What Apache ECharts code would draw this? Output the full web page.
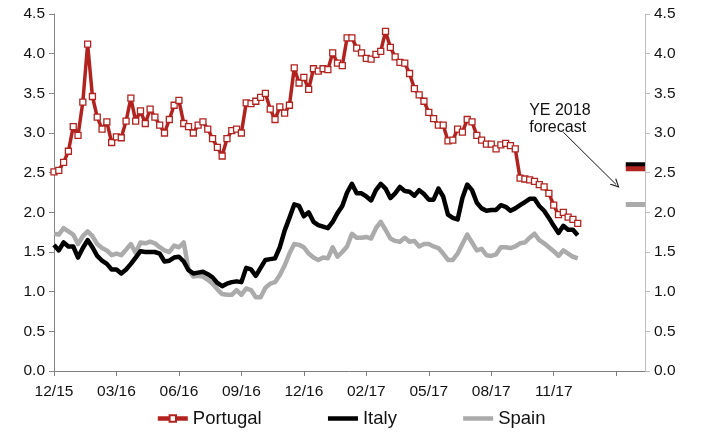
<!DOCTYPE html>
<html>
<head>
<meta charset="utf-8">
<script src="https://cdn.jsdelivr.net/npm/echarts@6/dist/echarts.min.js"></script>
<style>
  html, body { margin: 0; padding: 0; background: #fff; }
  #chart { width: 701px; height: 432px; }
</style>
</head>
<body>
<div id="chart"></div>
<script>
// Weekly 10-year government bond yields (%), Dec 2015 - Dec 2017
const tickLabels = ['12/15', '03/16', '06/16', '09/16', '12/16', '02/17', '05/17', '08/17', '11/17', ''];

const portugal = [
  2.51, 2.53, 2.63, 2.77, 3.08, 2.97, 3.39, 4.12, 3.46, 3.20,
  3.05, 3.14, 2.88, 2.95, 2.94, 3.15, 3.44, 3.15, 3.28, 3.12,
  3.30, 3.20, 3.10, 3.00, 3.17, 3.35, 3.41, 3.12, 3.08, 3.00,
  3.10, 3.14, 3.05, 2.93, 2.82, 2.71, 2.93, 3.03, 3.05, 3.00,
  3.38, 3.37, 3.40, 3.45, 3.50, 3.30, 3.17, 3.33, 3.25, 3.35,
  3.82, 3.63, 3.70, 3.55, 3.81, 3.78, 3.81, 3.80, 4.01, 3.88,
  3.85, 4.20, 4.20, 4.07, 4.01, 3.94, 3.93, 3.99, 4.03, 4.28,
  4.08, 3.96, 3.89, 3.88, 3.75, 3.56, 3.48, 3.40, 3.26, 3.18,
  3.10, 3.10, 2.90, 2.91, 3.05, 3.01, 3.17, 3.14, 2.97, 2.91,
  2.86, 2.86, 2.80, 2.85, 2.87, 2.84, 2.80, 2.43, 2.42, 2.41,
  2.39, 2.35, 2.32, 2.24, 2.09, 1.97, 2.00, 1.94, 1.91, 1.86
];

const italy = [
  1.59, 1.52, 1.62, 1.57, 1.57, 1.43, 1.55, 1.65, 1.56, 1.45,
  1.39, 1.35, 1.28, 1.28, 1.23, 1.28, 1.35, 1.43, 1.51, 1.50,
  1.50, 1.50, 1.48, 1.38, 1.39, 1.43, 1.44, 1.38, 1.27, 1.23,
  1.24, 1.25, 1.22, 1.18, 1.11, 1.07, 1.10, 1.12, 1.13, 1.12,
  1.30, 1.28, 1.20, 1.30, 1.40, 1.41, 1.42, 1.56, 1.77, 1.93,
  2.10, 2.08, 1.95, 2.00, 1.88, 1.84, 1.82, 1.80, 1.88, 1.99,
  2.08, 2.25, 2.36, 2.24, 2.24, 2.20, 2.15, 2.28, 2.36, 2.30,
  2.18, 2.24, 2.32, 2.27, 2.26, 2.21, 2.28, 2.23, 2.16, 2.16,
  2.30, 2.20, 1.97, 1.93, 1.91, 2.18, 2.35, 2.28, 2.12, 2.05,
  2.02, 2.03, 2.03, 2.09, 2.07, 2.02, 2.05, 2.09, 2.13, 2.17,
  2.17, 2.08, 2.02, 1.93, 1.83, 1.74, 1.83, 1.78, 1.78, 1.71
];

const spain = [
  1.73, 1.72, 1.80, 1.76, 1.72, 1.60, 1.70, 1.76, 1.70, 1.60,
  1.55, 1.52, 1.46, 1.48, 1.46, 1.53, 1.60, 1.49, 1.62, 1.61,
  1.63, 1.61, 1.56, 1.52, 1.50, 1.58, 1.56, 1.62, 1.28, 1.19,
  1.20, 1.19, 1.15, 1.10, 1.03, 0.97, 0.96, 0.96, 1.02, 0.96,
  1.04, 1.02, 0.93, 0.93, 1.05, 1.10, 1.12, 1.21, 1.33, 1.48,
  1.60, 1.59, 1.56, 1.48, 1.43, 1.40, 1.43, 1.42, 1.56, 1.44,
  1.50, 1.57, 1.73, 1.68, 1.68, 1.69, 1.67, 1.80, 1.88, 1.78,
  1.67, 1.64, 1.63, 1.68, 1.63, 1.64, 1.57, 1.60, 1.60, 1.57,
  1.55, 1.48, 1.40, 1.40, 1.48, 1.60, 1.72, 1.62, 1.52, 1.54,
  1.46, 1.45, 1.47, 1.56, 1.56, 1.55, 1.57, 1.61, 1.62, 1.68,
  1.73, 1.65, 1.61, 1.56, 1.51, 1.45, 1.52, 1.48, 1.44, 1.42
];

// Year-end 2018 forecasts
const forecastNames = ['Italy', 'Portugal', 'Spain'];
const forecastValues = [2.60, 2.55, 2.10];

// Category slots: weekly history, then padding weeks up to the forecast column
const slotCount = 124;
const weeksPerTick = 13;
const forecastFrom = 119;
const forecastTo = 123;
const slots = Array.from({ length: slotCount }, (_, i) => String(i));

const RED = '#B22320';
const BLACK = '#000000';
const GREY = '#ABABAB';
const colors = { Portugal: RED, Italy: BLACK, Spain: GREY };

const font = 'Liberation Sans, Arial, Helvetica, sans-serif';

function yAxis(position, lineColor) {
  return {
    type: 'value',
    position: position,
    min: 0,
    max: 4.5,
    interval: 0.5,
    axisLine: { show: true, lineStyle: { color: lineColor, width: 1 } },
    axisTick: { show: true, length: 5, lineStyle: { color: lineColor } },
    splitLine: { show: false },
    axisLabel: {
      color: '#111',
      fontSize: 15.5,
      fontFamily: font,
      margin: 9,
      formatter: v => v.toFixed(1)
    }
  };
}

const forecastSeries = forecastNames.map((name, k) => {
  const v = forecastValues[k];
  const isPt = name === 'Portugal';
  return {
    name: name + ' YE 2018',
    type: 'line',
    z: isPt ? 6 : 4,
    data: [
      { value: [String(forecastFrom), v], symbol: 'none' },
      { value: [String(forecastTo), v], symbol: isPt ? 'rect' : 'none' }
    ],
    symbolSize: 5,
    itemStyle: { color: '#fff', borderColor: colors[name], borderWidth: 1 },
    lineStyle: { color: colors[name], width: 5, cap: 'butt' },
    silent: true,
    animation: false
  };
});

const option = {
  animation: false,
  textStyle: { fontFamily: font },
  grid: { left: 54, right: 56, top: 14, bottom: 61, outerBoundsMode: 'none' },
  legend: {
    bottom: -1,
    left: 'center',
    data: [
      { name: 'Portugal' },
      { name: 'Italy', itemStyle: { opacity: 0 } },
      { name: 'Spain', itemStyle: { opacity: 0 } }
    ],
    itemWidth: 30,
    itemHeight: 8,
    itemGap: 64,
    lineStyle: { width: 4.5 },
    textStyle: { fontSize: 18.5, color: '#111', fontFamily: font },
    selectedMode: false
  },
  xAxis: {
    type: 'category',
    data: slots,
    boundaryGap: false,
    axisLine: { show: true, onZero: false, lineStyle: { color: '#7F7F7F' } },
    axisTick: { show: true, interval: weeksPerTick - 1, length: 5, lineStyle: { color: '#7F7F7F' } },
    axisLabel: {
      interval: weeksPerTick - 1,
      color: '#111',
      fontSize: 15.5,
      fontFamily: font,
      margin: 13,
      formatter: v => {
        const k = Number(v) / weeksPerTick;
        return Number.isInteger(k) && tickLabels[k] !== undefined ? tickLabels[k] : '';
      }
    },
    splitLine: { show: false }
  },
  yAxis: [yAxis('left', '#858585'), yAxis('right', '#BDBDBD')],
  series: [
    {
      name: 'Spain',
      type: 'line',
      data: spain,
      showSymbol: false,
      symbol: 'none',
      lineStyle: { color: GREY, width: 4.5, join: 'round' },
      itemStyle: { color: GREY },
      z: 2
    },
    {
      name: 'Italy',
      type: 'line',
      data: italy,
      showSymbol: false,
      symbol: 'none',
      lineStyle: { color: BLACK, width: 4.5, join: 'round' },
      itemStyle: { color: BLACK },
      z: 3
    },
    {
      name: 'Portugal',
      type: 'line',
      data: portugal,
      symbol: 'rect',
      symbolSize: 6,
      showAllSymbol: true,
      lineStyle: { color: RED, width: 3.5, join: 'round' },
      itemStyle: { color: '#fff', borderColor: RED, borderWidth: 1.3 },
      z: 5,
      markPoint: {
        silent: true,
        symbol: 'rect',
        symbolSize: 1,
        itemStyle: { color: 'rgba(0,0,0,0)' },
        label: {
          show: true,
          position: [0, 0],
          align: 'left',
          verticalAlign: 'top',
          color: '#111',
          fontSize: 16,
          lineHeight: 17,
          fontFamily: font,
          formatter: 'YE 2018\nforecast'
        },
        data: [{ coord: ['99', 3.38] }]
      },
      markLine: {
        silent: true,
        symbol: ['none', 'path://M0,10 L5,0 L10,10 L8.6,10 L5,2.6 L1.4,10 Z'],
        symbolSize: [9, 9],
        lineStyle: { color: '#111', width: 1, type: 'solid' },
        label: { show: false },
        data: [[{ coord: ['106', 3.01] }, { coord: ['117', 2.35] }]]
      }
    }
  ].concat(forecastSeries)
};

const chart = echarts.init(document.getElementById('chart'), null, { renderer: 'canvas' });
chart.setOption(option);
</script>
</body>
</html>
